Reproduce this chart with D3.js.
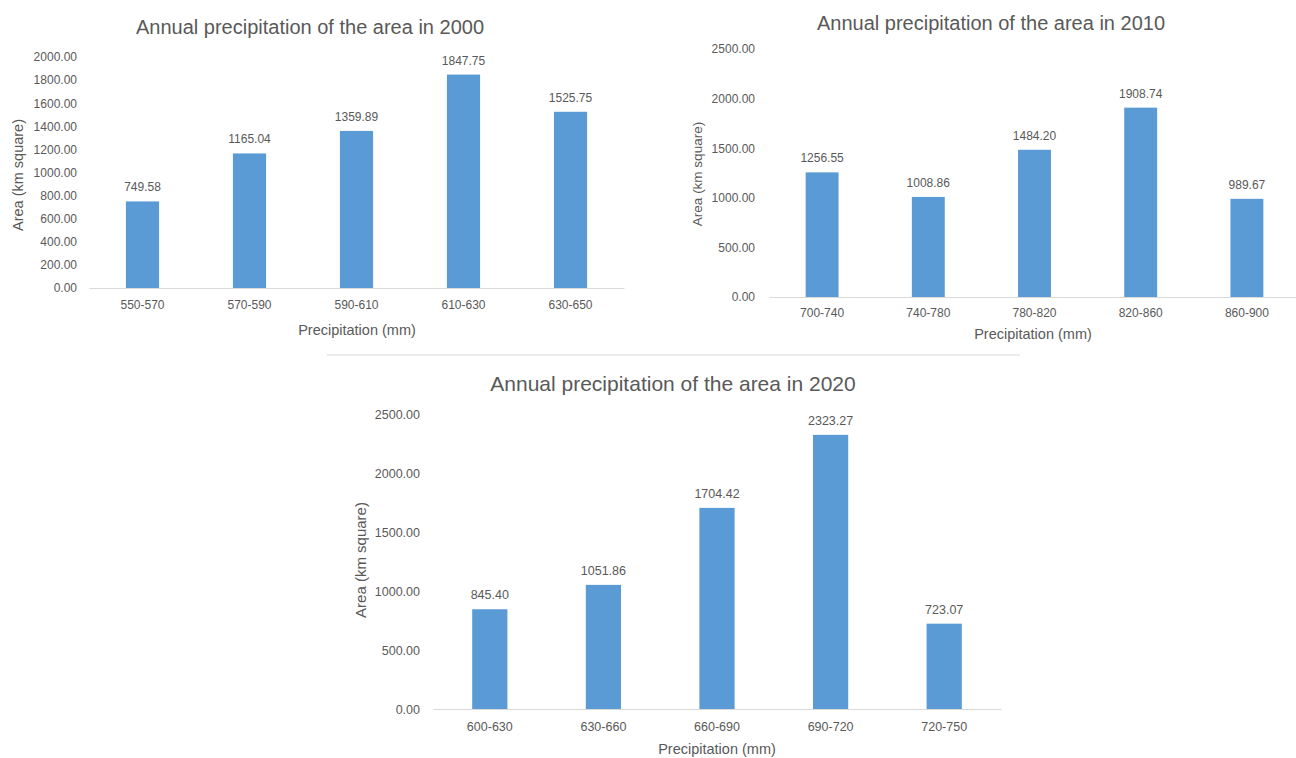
<!DOCTYPE html>
<html><head><meta charset="utf-8">
<script src="https://cdn.jsdelivr.net/npm/d3@7"></script>
<style>
body{margin:0;background:#fff}
svg{display:block}
text{font-family:"Liberation Sans",Arial,sans-serif;fill:#595959}
</style>
</head><body>
<svg id="c" width="1296" height="758"></svg>
<script>
// ---- data ----
const titles = ["Annual precipitation of the area in 2000","Annual precipitation of the area in 2010","Annual precipitation of the area in 2020"];
const categories2000 = ["550-570","570-590","590-610","610-630","630-650"];
const values2000 = [749.58,1165.04,1359.89,1847.75,1525.75];
const yTicks2000 = [0,200,400,600,800,1000,1200,1400,1600,1800,2000];
const categories2010 = ["700-740","740-780","780-820","820-860","860-900"];
const values2010 = [1256.55,1008.86,1484.20,1908.74,989.67];
const yTicks2010 = [0,500,1000,1500,2000,2500];
const categories2020 = ["600-630","630-660","660-690","690-720","720-750"];
const values2020 = [845.40,1051.86,1704.42,2323.27,723.07];
const yTicks2020 = [0,500,1000,1500,2000,2500];
const xAxisTitle = "Precipitation (mm)";
const yAxisTitle = "Area (km square)";

// ---- layout ----
const layouts = [
  {cats:categories2000, vals:values2000, ticks:yTicks2000, title:titles[0],
   x0:89, x1:624, yb:288, yt:57, tickPad:12, xPad:12, fs:12, titleFs:20, axFs:14.5, yFs:14.5,
   tX:310, tY:27, xtX:357, xtY:330, ytX:18, ytY:175},
  {cats:categories2010, vals:values2010, ticks:yTicks2010, title:titles[1],
   x0:769, x1:1300, yb:297, yt:49, tickPad:14, xPad:11, fs:12, titleFs:20, axFs:14.5, yFs:13.5,
   tX:991, tY:23, xtX:1033, xtY:334, ytX:697, ytY:174},
  {cats:categories2020, vals:values2020, ticks:yTicks2020, title:titles[2],
   x0:433, x1:1001, yb:709, yt:414, tickPad:13, xPad:13, fs:12.5, titleFs:21, axFs:14.5, yFs:15,
   tX:673, tY:383, xtX:717, xtY:749, ytX:360, ytY:560}
];

const svg = d3.select("#c");
const barColor = "#5B9BD5";
const lineColor = "#D9D9D9";

// separator line
svg.append("line").attr("x1",327).attr("x2",1020).attr("y1",355).attr("y2",355)
  .attr("stroke",lineColor).attr("stroke-width",1);

layouts.forEach(L => {
  const g = svg.append("g");
  const x = d3.scaleBand().domain(L.cats).range([L.x0, L.x1]).paddingInner(0.69).paddingOuter(0.345);
  const y = d3.scaleLinear().domain([0, d3.max(L.ticks)]).range([L.yb, L.yt]);

  // y axis
  const ya = g.append("g").attr("transform",`translate(${L.x0},0)`)
    .call(d3.axisLeft(y).tickValues(L.ticks).tickSize(0).tickPadding(L.tickPad).tickFormat(d3.format(".2f")));
  ya.select(".domain").remove();
  ya.selectAll("text").style("font-size",L.fs+"px").attr("fill","#595959").style("font-family",null);

  // bars
  g.selectAll("rect.bar").data(L.cats).enter().append("rect")
    .attr("x", d => x(d)).attr("width", x.bandwidth())
    .attr("y", (d,i) => y(L.vals[i])).attr("height", (d,i) => y(0) - y(L.vals[i]))
    .attr("fill", barColor);

  // x axis
  const xa = g.append("g").attr("transform",`translate(0,${L.yb})`)
    .call(d3.axisBottom(x).tickSize(0).tickSizeOuter(0).tickPadding(L.xPad));
  xa.select(".domain").attr("stroke",lineColor).attr("stroke-width",1);
  xa.selectAll("text").style("font-size",L.fs+"px").attr("fill","#595959").style("font-family",null);

  // value labels
  g.selectAll("text.val").data(L.cats).enter().append("text")
    .attr("class","val")
    .attr("x", d => x(d) + x.bandwidth()/2)
    .attr("y", (d,i) => y(L.vals[i]) - 10)
    .attr("text-anchor","middle")
    .style("font-size",L.fs+"px")
    .text((d,i) => d3.format(".2f")(L.vals[i]));

  // title
  g.append("text").attr("x",L.tX).attr("y",L.tY).attr("text-anchor","middle")
    .attr("dominant-baseline","central").style("font-size",L.titleFs+"px").text(L.title);
  // axis titles
  g.append("text").attr("x",L.xtX).attr("y",L.xtY).attr("text-anchor","middle")
    .attr("dominant-baseline","central").style("font-size",L.axFs+"px").text(xAxisTitle);
  g.append("text").attr("transform",`translate(${L.ytX},${L.ytY}) rotate(-90)`).attr("text-anchor","middle")
    .attr("dominant-baseline","central").style("font-size",L.yFs+"px").text(yAxisTitle);
});
</script>
</body></html>
